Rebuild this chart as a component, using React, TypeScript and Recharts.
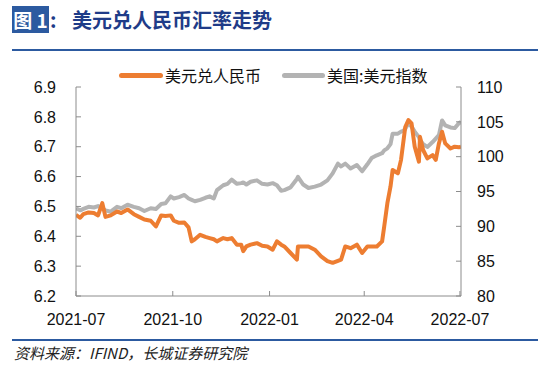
import { LineChart, Line, XAxis, YAxis } from 'recharts';

const DATES = [
  '2021-07-01', '2021-07-05', '2021-07-08', '2021-07-13', '2021-07-18', '2021-07-22', '2021-07-26', '2021-07-29',
  '2021-08-03', '2021-08-09', '2021-08-13', '2021-08-19', '2021-08-25', '2021-08-30',
  '2021-09-04', '2021-09-10', '2021-09-15', '2021-09-20', '2021-09-24', '2021-09-29',
  '2021-10-02', '2021-10-07', '2021-10-12', '2021-10-16', '2021-10-19', '2021-10-22', '2021-10-27',
  '2021-11-01', '2021-11-05', '2021-11-09', '2021-11-12', '2021-11-18', '2021-11-22', '2021-11-26',
  '2021-12-01', '2021-12-05', '2021-12-07', '2021-12-10', '2021-12-14', '2021-12-20', '2021-12-25', '2021-12-30',
  '2022-01-04', '2022-01-08', '2022-01-12', '2022-01-15', '2022-01-21', '2022-01-27', '2022-01-28',
  '2022-02-02', '2022-02-07', '2022-02-13', '2022-02-19', '2022-02-25',
  '2022-03-02', '2022-03-07', '2022-03-10', '2022-03-14', '2022-03-19', '2022-03-25', '2022-03-30',
  '2022-04-04', '2022-04-08', '2022-04-13', '2022-04-18', '2022-04-20', '2022-04-23', '2022-04-26', '2022-04-28',
  '2022-05-03', '2022-05-06', '2022-05-08', '2022-05-10', '2022-05-13', '2022-05-16', '2022-05-19', '2022-05-23',
  '2022-05-24', '2022-05-27', '2022-05-31',
  '2022-06-05', '2022-06-08', '2022-06-11', '2022-06-14', '2022-06-17', '2022-06-22', '2022-06-26', '2022-06-30',
  '2022-07-02',
];

// 美元兑人民币
const CNY = [
  6.472, 6.462, 6.474, 6.48, 6.478, 6.47, 6.511, 6.465,
  6.47, 6.483, 6.478, 6.49, 6.474, 6.465,
  6.456, 6.452, 6.433, 6.47, 6.468, 6.47,
  6.452, 6.445, 6.446, 6.43, 6.383, 6.39, 6.405,
  6.398, 6.394, 6.39, 6.383, 6.394, 6.39, 6.394,
  6.372, 6.372, 6.35, 6.366, 6.372, 6.377, 6.368, 6.366,
  6.355, 6.383, 6.372, 6.366, 6.344, 6.322, 6.366,
  6.366, 6.366, 6.355, 6.333, 6.317,
  6.311, 6.318, 6.322, 6.366, 6.36, 6.372, 6.344,
  6.366, 6.366, 6.366, 6.383, 6.433, 6.511, 6.567, 6.622,
  6.611, 6.656, 6.711, 6.766, 6.789, 6.778, 6.7, 6.65,
  6.733, 6.689, 6.661,
  6.672, 6.656, 6.711, 6.75, 6.711, 6.694, 6.7, 6.698,
  6.7,
];

// 美国:美元指数
const DXY = [
  92.6, 92.3, 92.5, 92.8, 92.7, 92.9, 92.6, 92.3,
  92.1, 92.8, 92.6, 93.1, 92.8, 92.6,
  92.2, 92.6, 92.5, 93.2, 93.3, 94.3,
  94.0, 94.2, 94.5, 94.0, 93.8, 93.6, 93.8,
  94.1, 94.3, 94.0, 95.2, 95.9, 96.1, 96.7,
  96.1, 96.2, 96.3, 96.0, 96.4, 96.6, 96.1, 96.0,
  96.2, 95.9, 95.1, 95.2, 95.6, 96.8, 97.1,
  96.0, 95.5, 95.7, 96.0, 96.6,
  97.6, 99.0, 98.6, 99.0, 98.3, 98.8, 97.9,
  98.9, 99.8, 100.2, 100.5, 100.9, 101.2, 101.8, 103.3,
  103.3, 103.6, 103.7, 104.0, 104.8, 104.3, 103.6, 102.8,
  102.4, 101.8, 101.4,
  102.1, 102.6, 103.1, 105.2, 104.5, 104.2, 104.1, 104.8,
  105.0,
];

const X_TICK_DATES = ['2021-07-01', '2021-10-01', '2022-01-01', '2022-04-01', '2022-07-01'];
const X_TICK_LABELS = ['2021-07', '2021-10', '2022-01', '2022-04', '2022-07'];
const LEFT_TICKS = [6.2, 6.3, 6.4, 6.5, 6.6, 6.7, 6.8, 6.9];
const RIGHT_TICKS = [80, 85, 90, 95, 100, 105, 110];

const START = Date.UTC(2021, 6, 1);
function dayOf(s: string): number {
  const [y, m, d] = s.split('-').map(Number);
  return Math.round((Date.UTC(y, m - 1, d) - START) / 86400000);
}

const data = DATES.map((d, i) => ({ t: dayOf(d), cny: CNY[i], dxy: DXY[i] }));
const xTicks = X_TICK_DATES.map(dayOf);

const BLUE = '#2C5AA0';
const ORANGE = '#ED7D31';
const GRAY = '#B3B3B3';
const AXIS = '#8C8C8C';
const tickFont = { fontSize: 16, fill: '#111', fontFamily: '"Liberation Sans", Arial, sans-serif' };

export default function App() {
  return (
    <div style={{ position: 'absolute', left: 0, top: 0, width: 550, height: 368, background: '#fff', overflow: 'hidden' }}>
      {/* title */}
      <div style={{ position: 'absolute', left: 12, top: 6, width: 37, height: 27, background: BLUE, color: '#fff',
        fontFamily: '"Noto Sans CJK SC", sans-serif', fontWeight: 700, fontSize: 19, lineHeight: '27px', textAlign: 'center' }}>
        图 1
      </div>
      <div style={{ position: 'absolute', left: 50, top: 6, height: 27, color: '#1F3C88', fontWeight: 700,
        fontFamily: '"Noto Sans CJK SC", sans-serif', fontSize: 20, lineHeight: '27px' }}>:</div>
      <div style={{ position: 'absolute', left: 72, top: 6, height: 27, color: '#1F3C88', whiteSpace: 'nowrap',
        fontFamily: '"Noto Sans CJK SC", sans-serif', fontWeight: 700, fontSize: 20, lineHeight: '27px' }}>
        美元兑人民币汇率走势
      </div>
      <div style={{ position: 'absolute', left: 12, top: 49, width: 526, height: 2, background: BLUE }} />

      {/* legend */}
      <div style={{ position: 'absolute', left: 119, top: 73, width: 44, height: 5, borderRadius: 3, background: ORANGE }} />
      <div style={{ position: 'absolute', left: 165, top: 64, fontSize: 16, lineHeight: '22px', color: '#111',
        fontFamily: '"Noto Sans CJK SC", sans-serif', whiteSpace: 'nowrap' }}>美元兑人民币</div>
      <div style={{ position: 'absolute', left: 282, top: 73, width: 43, height: 5, borderRadius: 3, background: GRAY }} />
      <div style={{ position: 'absolute', left: 327, top: 64, fontSize: 16, lineHeight: '22px', color: '#111',
        fontFamily: '"Noto Sans CJK SC", sans-serif', whiteSpace: 'nowrap' }}>美国:美元指数</div>

      <div style={{ position: 'absolute', left: 0, top: 0 }}>
        <LineChart width={550} height={368} data={data} margin={{ top: 87, right: 29, bottom: 42, left: 16 }}>
          <XAxis
            dataKey="t"
            type="number"
            domain={[0, 366]}
            ticks={xTicks}
            tickFormatter={(v: number) => X_TICK_LABELS[xTicks.indexOf(v)] ?? ''}
            tick={tickFont}
            stroke={AXIS}
            tickSize={-5}
            tickMargin={23}
            height={30}
            allowDataOverflow
          />
          <YAxis
            yAxisId="left"
            orientation="left"
            domain={[6.2, 6.9]}
            ticks={LEFT_TICKS}
            tickFormatter={(v: number) => v.toFixed(1)}
            tick={tickFont}
            stroke={AXIS}
            tickSize={-5}
            tickMargin={25}
            width={60}
            allowDataOverflow
          />
          <YAxis
            yAxisId="right"
            orientation="right"
            domain={[80, 110]}
            ticks={RIGHT_TICKS}
            tick={tickFont}
            stroke={AXIS}
            tickSize={-5}
            tickMargin={21}
            width={60}
            allowDataOverflow
          />
          <Line yAxisId="right" dataKey="dxy" stroke={GRAY} strokeWidth={4} dot={false} type="linear"
            strokeLinejoin="round" isAnimationActive={false} />
          <Line yAxisId="left" dataKey="cny" stroke={ORANGE} strokeWidth={4} dot={false} type="linear"
            strokeLinejoin="round" isAnimationActive={false} />
        </LineChart>
      </div>

      {/* footer */}
      <div style={{ position: 'absolute', left: 12, top: 339, width: 526, height: 2, background: BLUE }} />
      <div style={{ position: 'absolute', left: 14, top: 343, fontSize: 15, lineHeight: '20px', color: '#222', fontStyle: 'italic',
        fontFamily: '"Noto Sans CJK SC", sans-serif', whiteSpace: 'nowrap' }}>
        资料来源：IFIND，长城证券研究院
      </div>
    </div>
  );
}
